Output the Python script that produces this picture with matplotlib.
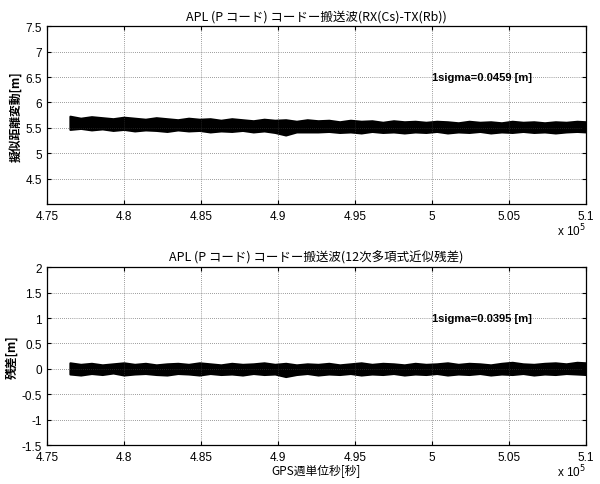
import matplotlib
matplotlib.use("Agg")
import matplotlib.pyplot as plt

plt.rcParams['font.family'] = ['Liberation Sans', 'Noto Sans CJK JP', 'DejaVu Sans']

# GPS週単位秒 (sample points along the dense band)
gps_sec = [476500, 477200, 477900, 478600, 479300, 480000, 480700, 481400,
           482100, 482800, 483500, 484200, 484900, 485600, 486300, 487000,
           487700, 488400, 489100, 489800, 490500, 491200, 491900, 492600,
           493300, 494000, 494700, 495400, 496100, 496800, 497500, 498200,
           498900, 499600, 500300, 501000, 501700, 502400, 503100, 503800,
           504500, 505200, 505900, 506600, 507300, 508000, 508700, 509400,
           510000]

# 擬似距離変動 - upper / lower edge of the band [m]
range_hi = [5.73, 5.69, 5.72, 5.70, 5.68, 5.71, 5.69, 5.67, 5.70, 5.68,
            5.66, 5.69, 5.67, 5.68, 5.65, 5.68, 5.66, 5.64, 5.67, 5.65,
            5.66, 5.63, 5.66, 5.64, 5.65, 5.62, 5.65, 5.63, 5.64, 5.61,
            5.64, 5.62, 5.63, 5.61, 5.63, 5.62, 5.60, 5.63, 5.61, 5.62,
            5.60, 5.63, 5.61, 5.62, 5.60, 5.62, 5.61, 5.63, 5.62]
range_lo = [5.47, 5.49, 5.46, 5.48, 5.45, 5.47, 5.44, 5.46, 5.45, 5.43,
            5.46, 5.44, 5.45, 5.42, 5.44, 5.43, 5.45, 5.42, 5.44, 5.41,
            5.36, 5.42, 5.42, 5.42, 5.43, 5.41, 5.42, 5.40, 5.43, 5.41,
            5.42, 5.40, 5.42, 5.41, 5.43, 5.40, 5.42, 5.41, 5.43, 5.40,
            5.42, 5.41, 5.43, 5.41, 5.42, 5.40, 5.42, 5.43, 5.42]

# 残差 - upper / lower edge of the band [m]
resid_hi = [0.12, 0.09, 0.11, 0.08, 0.10, 0.12, 0.09, 0.11, 0.08, 0.10,
            0.11, 0.09, 0.12, 0.10, 0.08, 0.11, 0.09, 0.10, 0.12, 0.09,
            0.11, 0.08, 0.10, 0.09, 0.11, 0.08, 0.10, 0.12, 0.09, 0.11,
            0.10, 0.08, 0.11, 0.09, 0.10, 0.12, 0.09, 0.11, 0.10, 0.08,
            0.11, 0.13, 0.10, 0.09, 0.11, 0.12, 0.10, 0.13, 0.12]
resid_lo = [-0.10, -0.12, -0.09, -0.11, -0.08, -0.12, -0.10, -0.09, -0.11, -0.12,
            -0.09, -0.10, -0.12, -0.09, -0.11, -0.10, -0.12, -0.09, -0.11, -0.10,
            -0.15, -0.11, -0.09, -0.12, -0.10, -0.11, -0.09, -0.12, -0.10, -0.11,
            -0.09, -0.12, -0.10, -0.11, -0.09, -0.12, -0.10, -0.11, -0.09, -0.12,
            -0.10, -0.11, -0.09, -0.12, -0.10, -0.11, -0.09, -0.10, -0.11]

x_ticks = [475000, 480000, 485000, 490000, 495000, 500000, 505000, 510000]
x_labels = ['4.75', '4.8', '4.85', '4.9', '4.95', '5', '5.05', '5.1']
top_yticks = [4.5, 5, 5.5, 6, 6.5, 7, 7.5]
bot_yticks = [-1.5, -1, -0.5, 0, 0.5, 1, 1.5, 2]

titles = ['APL (P コード) コードー搬送波(RX(Cs)-TX(Rb))',
          'APL (P コード) コードー搬送波(12次多項式近似残差)']
ylabels = ['擬似距離変動[m]', '残差[m]']
sigmas = ['1sigma=0.0459 [m]', '1sigma=0.0395 [m]']

fig = plt.figure(figsize=(6, 4.85), dpi=100)
ax1 = fig.add_axes([0.078, 0.577, 0.899, 0.367])
ax2 = fig.add_axes([0.078, 0.080, 0.899, 0.367])


def style_ax(ax, yticks, ylim):
    ax.set_xlim(475000, 510000)
    ax.set_ylim(*ylim)
    ax.set_xticks(x_ticks)
    ax.set_xticklabels(x_labels)
    ax.set_yticks(yticks)
    ax.set_yticklabels(['%g' % v for v in yticks])
    ax.tick_params(direction='in', length=3, width=0.8, labelsize=8.5,
                   top=True, right=True)
    ax.tick_params(axis='x', pad=4)
    ax.grid(True, color='0.25', linestyle=(0, (1, 2)), linewidth=0.5)
    for s in ax.spines.values():
        s.set_linewidth(0.9)
    ax.text(1.0, -0.1, r'x 10$^5$', transform=ax.transAxes, ha='right',
            va='top', fontsize=8.5)


# top: pseudo range variation
ax1.fill_between(gps_sec, range_lo, range_hi, color='black', linewidth=1.5,
                 edgecolor='black')
style_ax(ax1, top_yticks, (4.0, 7.5))
ax1.set_title(titles[0], fontsize=9, family=['Noto Sans CJK JP'], pad=5)
ax1.set_ylabel(ylabels[0], fontsize=8.5, family=['Noto Sans CJK JP'],
               fontweight='bold', labelpad=2)
ax1.text(500000, 6.5, sigmas[0], fontsize=8, fontweight='bold', va='center')

# bottom: residual of 12th order fit
ax2.fill_between(gps_sec, resid_lo, resid_hi, color='black', linewidth=1.5,
                 edgecolor='black')
style_ax(ax2, bot_yticks, (-1.5, 2))
ax2.set_title(titles[1], fontsize=9, family=['Noto Sans CJK JP'], pad=5)
ax2.set_ylabel(ylabels[1], fontsize=8.5, family=['Noto Sans CJK JP'],
               fontweight='bold', labelpad=2)
ax2.set_xlabel('GPS週単位秒[秒]', fontsize=8.5, family=['Noto Sans CJK JP'],
               labelpad=1)
ax2.text(500000, 1.0, sigmas[1], fontsize=8, fontweight='bold', va='center')

fig.savefig('out.png', dpi=100)
